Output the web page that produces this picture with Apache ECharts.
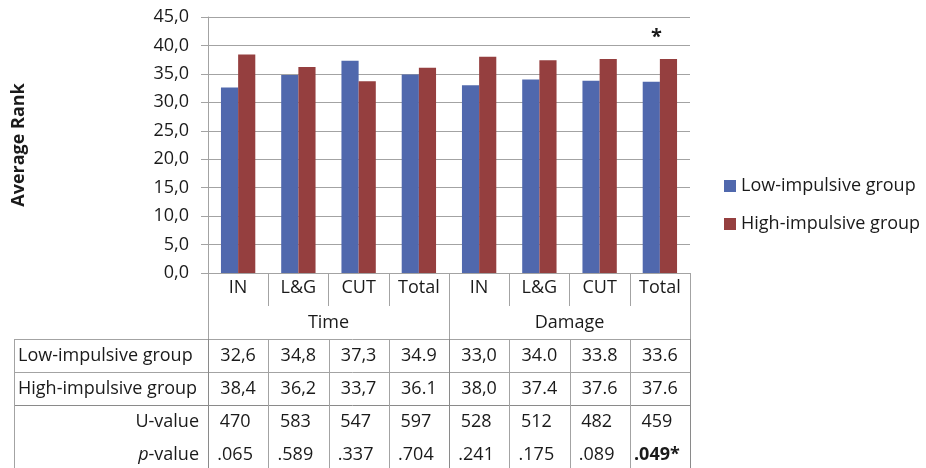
<!DOCTYPE html>
<html>
<head>
<meta charset="utf-8">
<script src="https://cdn.jsdelivr.net/npm/echarts@6/dist/echarts.min.js"></script>
<style>
  html, body { margin: 0; padding: 0; background: #fff; }
  #chart { width: 926px; height: 468px; }
</style>
</head>
<body>
<div id="chart"></div>
<script>
// Measures and groups
const categories = ['IN', 'L&G', 'CUT', 'Total', 'IN', 'L&G', 'CUT', 'Total'];
const groups = ['Time', 'Damage'];
const seriesNames = ['Low-impulsive group', 'High-impulsive group'];

// Average ranks as printed in the table (mixed decimal separators kept as printed)
const lowLabels = ['32,6', '34,8', '37,3', '34.9', '33,0', '34.0', '33.8', '33.6'];
const highLabels = ['38,4', '36,2', '33,7', '36.1', '38,0', '37.4', '37.6', '37.6'];

// Mann-Whitney statistics
const uValues = ['470', '583', '547', '597', '528', '512', '482', '459'];
const pValues = ['.065', '.589', '.337', '.704', '.241', '.175', '.089', '.049*'];

// Y axis
const yMin = 0, yMax = 45, yStep = 5;

const toNum = s => parseFloat(s.replace(',', '.'));
const lowValues = lowLabels.map(toNum);
const highValues = highLabels.map(toNum);

const FONT = '"Open Sans", "Noto Sans", sans-serif';
const FS = 18;
const TXT = '#1a1a1a';
const LINE = '#a3a3a3';

const chart = echarts.init(document.getElementById('chart'), null, { renderer: 'canvas' });

const option = {
  animation: false,
  textStyle: { fontFamily: FONT },
  grid: { left: 208, right: 236, top: 17, bottom: 195, outerBoundsMode: 'none', containLabel: false },
  legend: {
    orient: 'vertical',
    left: 724,
    top: 174,
    padding: 0,
    icon: 'rect',
    itemWidth: 12,
    itemHeight: 12,
    itemGap: 14,
    textStyle: { fontSize: FS, color: TXT, fontFamily: FONT, lineHeight: 24 },
    data: seriesNames
  },
  xAxis: {
    type: 'category',
    data: categories,
    axisLine: { lineStyle: { color: LINE } },
    axisTick: { show: true, interval: 0, length: 33, lineStyle: { color: LINE } },
    axisLabel: { interval: 0, fontSize: FS, color: TXT, margin: 6, fontFamily: FONT }
  },
  yAxis: {
    type: 'value',
    min: yMin, max: yMax, interval: yStep,
    name: 'Average Rank',
    nameLocation: 'middle',
    nameRotate: 90,
    nameGap: 180,
    nameTextStyle: { fontSize: FS, fontWeight: 'bold', color: TXT, fontFamily: FONT },
    axisLine: { show: true, lineStyle: { color: LINE } },
    axisTick: { show: true, length: 7, lineStyle: { color: LINE } },
    axisLabel: {
      fontSize: FS, color: TXT, margin: 19, fontFamily: FONT,
      formatter: v => v.toFixed(1).replace('.', ',')
    },
    splitLine: { lineStyle: { color: LINE } }
  },
  series: [
    {
      name: seriesNames[0],
      type: 'bar',
      data: lowValues,
      barGap: '0%',
      barCategoryGap: '43%',
      itemStyle: { color: '#5068ad' }
    },
    {
      name: seriesNames[1],
      type: 'bar',
      data: highValues,
      itemStyle: { color: '#953f3f' },
      label: {
        show: true,
        position: 'top',
        distance: 12,
        offset: [-12, 0],
        fontSize: 20,
        fontWeight: 'bold',
        color: TXT,
        fontFamily: FONT,
        formatter: p => (pValues[p.dataIndex].indexOf('*') >= 0 ? '*' : '')
      }
    }
  ]
};

chart.setOption(option);

// Data table under the category axis, aligned to the axis bands
function buildTable() {
  const c0 = chart.convertToPixel({ xAxisIndex: 0 }, 0);
  const c1 = chart.convertToPixel({ xAxisIndex: 0 }, 1);
  const band = c1 - c0;
  const left = c0 - band / 2;
  const n = categories.length;
  const bx = i => Math.round(left + i * band) + 0.5;
  const centre = i => left + (i + 0.5) * band;
  const axisY = Math.round(chart.convertToPixel({ yAxisIndex: 0 }, 0));
  const rowH = 33;
  const tableLeft = 14.5;
  const rightX = bx(n);
  const yRow = k => axisY + rowH * k;          // top edge of row k (0 = category labels)
  const bottom = 470;
  const els = [];

  const line = (x1, y1, x2, y2, color, w) => els.push({
    type: 'line', silent: true,
    shape: { x1, y1, x2, y2 },
    style: { stroke: color || LINE, lineWidth: w || 1 }
  });
  const text = (str, x, y, align, extra) => els.push({
    type: 'text', silent: true,
    style: Object.assign({
      text: str, x, y, font: FS + 'px ' + FONT, fill: TXT,
      textAlign: align, textVerticalAlign: 'middle',
      align: align, verticalAlign: 'middle'
    }, extra || {})
  });

  // group row ("Time" / "Damage") borders
  const half = n / groups.length;
  for (let g = 0; g <= groups.length; g++) {
    line(bx(g * half), yRow(1), bx(g * half), yRow(2) + 0.5);
  }
  // horizontal rules of the data rows
  line(tableLeft, Math.round(yRow(2)) + 0.5, rightX, Math.round(yRow(2)) + 0.5);
  line(tableLeft, Math.round(yRow(3)) + 0.5, rightX, Math.round(yRow(3)) + 0.5);
  line(tableLeft, Math.round(yRow(4)) + 0.5, rightX, Math.round(yRow(4)) + 0.5, '#8a8a8a');
  // vertical rules of the data rows
  line(tableLeft, Math.round(yRow(2)), tableLeft, bottom);
  for (let i = 0; i <= n; i++) {
    line(bx(i), Math.round(yRow(2)), bx(i), bottom, i % half === 0 ? '#8a8a8a' : LINE);
  }

  // group captions
  groups.forEach((g, k) => {
    text(g, (centre(k * half) + centre(k * half + half - 1)) / 2, yRow(1) + rowH / 2, 'center');
  });

  // row captions
  const labelLeft = 18, labelRight = 199;
  text(seriesNames[0], labelLeft, yRow(2) + rowH / 2, 'left');
  text(seriesNames[1], labelLeft, yRow(3) + rowH / 2, 'left');
  text('U-value', labelRight, yRow(4) + rowH / 2, 'right');
  text('{i|p}-value', labelRight, yRow(5) + rowH / 2, 'right', {
    rich: { i: { fontStyle: 'italic', fontSize: FS, fontFamily: FONT, fill: TXT } }
  });

  // cell values
  for (let i = 0; i < n; i++) {
    const x = centre(i);
    text(lowLabels[i], x, yRow(2) + rowH / 2, 'center');
    text(highLabels[i], x, yRow(3) + rowH / 2, 'center');
    text(uValues[i], x - 3, yRow(4) + rowH / 2, 'center');
    const sig = pValues[i].indexOf('*') >= 0;
    text(pValues[i], x - 3, yRow(5) + rowH / 2, 'center',
      sig ? { font: 'bold ' + FS + 'px ' + FONT } : null);
  }
  return els;
}

chart.setOption({ graphic: { elements: buildTable() } });
</script>
</body>
</html>
